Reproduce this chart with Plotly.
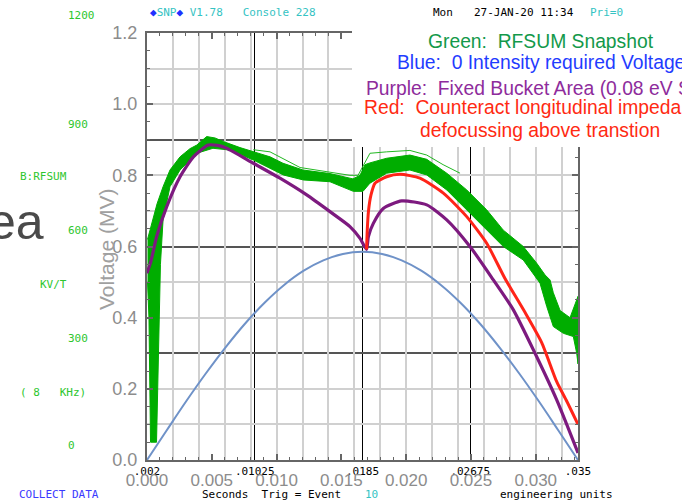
import plotly.graph_objects as go

# ---------------- data (time in seconds on the ACNET axis, voltage in MV) ----------------
acnet_x_ticks = [0.002, 0.01025, 0.0185, 0.02675, 0.035]
acnet_x_labels = [".002", ".01025", ".0185", ".02675", ".035"]
acnet_y_grid = [300, 600, 900]          # KV/T
math_y_grid = [0.1, 0.2, 0.4, 0.5, 0.7, 0.8, 1.0, 1.1]

# Green: RFSUM snapshot (noisy band -> upper / lower envelope)
green_upper_t = [0.00204, 0.00238, 0.00277, 0.00323, 0.00376, 0.00453, 0.00529, 0.00581, 0.00657,
                 0.00721, 0.00784, 0.00912, 0.01014, 0.01142, 0.01241, 0.01394, 0.01601, 0.01716,
                 0.01777, 0.01831, 0.01869, 0.01907, 0.02035, 0.02213, 0.02342, 0.02495, 0.02648,
                 0.02801, 0.02928, 0.03081, 0.03184, 0.03248, 0.03286, 0.03311, 0.03363, 0.03439,
                 0.0349, 0.035]
green_upper_v = [0.62, 0.67, 0.72, 0.768, 0.815, 0.852, 0.875, 0.885, 0.909,
                 0.905, 0.895, 0.878, 0.866, 0.852, 0.834, 0.815, 0.805, 0.795,
                 0.79, 0.80, 0.83, 0.835, 0.848, 0.857, 0.845, 0.806, 0.759,
                 0.703, 0.646, 0.60, 0.553, 0.52, 0.506, 0.47, 0.42, 0.40,
                 0.45, 0.46]
green_lower_t = [0.00204, 0.00215, 0.00227, 0.00273, 0.00296, 0.00303, 0.00323, 0.00376, 0.00453,
                 0.00581, 0.00705, 0.00836, 0.01014, 0.01244, 0.01397, 0.01601, 0.0178, 0.01854,
                 0.01907, 0.02035, 0.02213, 0.02342, 0.02495, 0.02648, 0.02801, 0.02928, 0.03081,
                 0.03209, 0.03261, 0.03311, 0.03388, 0.03464, 0.0349, 0.035]
green_lower_v = [0.50, 0.40, 0.05, 0.05, 0.45, 0.55, 0.675, 0.768, 0.815,
                 0.862, 0.876, 0.871, 0.843, 0.801, 0.787, 0.782, 0.755, 0.755,
                 0.778, 0.806, 0.815, 0.801, 0.759, 0.703, 0.646, 0.60, 0.562,
                 0.497, 0.431, 0.375, 0.356, 0.347, 0.30, 0.27]
green_max_t = [0.01014, 0.01142, 0.01372, 0.01601, 0.01754, 0.01816, 0.01862, 0.01907, 0.02035,
               0.02213, 0.02342, 0.02467, 0.02597]
green_max_v = [0.872, 0.866, 0.822, 0.81, 0.80, 0.80, 0.83, 0.862, 0.866,
               0.87, 0.857, 0.83, 0.806]

# Blue: 0 intensity required voltage
blue_t = [0.002, 0.0035, 0.005, 0.0065, 0.008, 0.0095, 0.011, 0.0125, 0.014, 0.0155, 0.017, 0.0185,
          0.020, 0.0215, 0.023, 0.0245, 0.026, 0.0275, 0.029, 0.0305, 0.032, 0.0335, 0.035]
blue_v = [0.0, 0.083, 0.165, 0.243, 0.316, 0.383, 0.442, 0.492, 0.532, 0.561, 0.579, 0.585,
          0.579, 0.561, 0.532, 0.492, 0.442, 0.383, 0.316, 0.243, 0.165, 0.083, 0.0]

# Purple: fixed bucket area
purple_t = [0.00200, 0.00231, 0.00274, 0.00351, 0.00453, 0.00555, 0.00669, 0.0074, 0.00810, 0.01014,
            0.01218, 0.01423, 0.01601, 0.01754, 0.01831, 0.01881, 0.01895, 0.01933, 0.02009,
            0.02150, 0.02342, 0.02495, 0.02673, 0.02852, 0.03005, 0.03171, 0.03337, 0.03500]
purple_v = [0.525, 0.56, 0.628, 0.712, 0.796, 0.852, 0.885, 0.884, 0.876, 0.834,
            0.792, 0.745, 0.698, 0.656, 0.623, 0.592, 0.628, 0.665, 0.707,
            0.728, 0.717, 0.675, 0.60, 0.506, 0.422, 0.30, 0.169, 0.02]

# Red: counteract longitudinal impedance defocussing above transition
red_t = [0.01881, 0.01887, 0.01896, 0.01915, 0.01946, 0.02035, 0.02137, 0.02290, 0.02469,
         0.02648, 0.02801, 0.02941, 0.03094, 0.03222, 0.03337, 0.03414, 0.03500]
red_v = [0.592, 0.65, 0.70, 0.745, 0.778, 0.796, 0.803, 0.792, 0.75,
         0.684, 0.609, 0.51, 0.415, 0.33, 0.22, 0.165, 0.10]

# ---------------- geometry helpers (pixel -> paper) ----------------
W, H = 682, 502
ML, MR, MT, MB = 147, 104, 33, 42
PW, PH = W - ML - MR, H - MT - MB


def px(x):
    return (x - ML) / PW


def py(y):
    return (H - MB - y) / PH


MONO = "DejaVu Sans Mono, Liberation Mono, monospace"
SANS = "Liberation Sans, Arial, sans-serif"
NARROW = "Liberation Sans Narrow, Liberation Sans, sans-serif"
GREEN_T = "#2ec62e"
CYAN = "#35c3c3"
BLUE_T = "#3a3aff"
NB = "\u00a0"

fig = go.Figure()

band_x = green_upper_t + green_lower_t[::-1]
band_y = green_upper_v + green_lower_v[::-1]
fig.add_trace(go.Scatter(x=band_x, y=band_y, mode="lines", fill="toself", fillcolor="#00ad00",
                         line=dict(color="#00ad00", width=1), hoverinfo="skip"))
fig.add_trace(go.Scatter(x=green_max_t, y=green_max_v, mode="lines",
                         line=dict(color="#22b822", width=1), hoverinfo="skip"))
fig.add_trace(go.Scatter(x=blue_t, y=blue_v, mode="lines", line=dict(color="#6f92c8", width=2, shape="spline")))
fig.add_trace(go.Scatter(x=purple_t, y=purple_v, mode="lines",
                         line=dict(color="#7d1a7f", width=3.2, shape="spline", smoothing=0.6)))
fig.add_trace(go.Scatter(x=red_t, y=red_v, mode="lines",
                         line=dict(color="#ff2418", width=3, shape="spline", smoothing=0.6)))
# empty traces to instantiate the overlay axes
fig.add_trace(go.Scatter(x=[], y=[], xaxis="x2", yaxis="y"))
fig.add_trace(go.Scatter(x=[], y=[], xaxis="x3", yaxis="y"))
fig.add_trace(go.Scatter(x=[], y=[], xaxis="x", yaxis="y2"))
fig.add_trace(go.Scatter(x=[], y=[], xaxis="x", yaxis="y3"))

ann = []


def txt(x, y, s, color, size=11, family=MONO, anchor="left", **kw):
    ann.append(dict(x=px(x), y=py(y), xref="paper", yref="paper", text=s, showarrow=False,
                    xanchor=anchor, yanchor="middle", font=dict(family=family, size=size, color=color), **kw))


# header
txt(148, 13, '<span style="color:#2030ff">◆</span>SNP<span style="color:#2030ff">◆</span> V1.78'
    + NB * 3 + "Console 228", CYAN)
txt(431, 13, "Mon", "black")
txt(472, 13, "27-JAN-20 11:34", "black")
txt(588, 13, "Pri=0", CYAN)
# ACNET left labels
txt(66, 16, "1200", GREEN_T)
txt(66, 124, "900", GREEN_T)
txt(18, 176, "B:RFSUM", GREEN_T)
txt(66, 231, "600", GREEN_T)
txt(38, 284, "KV/T", GREEN_T)
txt(66, 338, "300", GREEN_T)
txt(18, 392, "(" + NB + "8" + NB * 3 + "KHz)", GREEN_T)
txt(66, 445, "0", GREEN_T)
# footer
txt(17, 494, "COLLECT DATA", BLUE_T)
txt(200, 494, "Seconds" + NB * 2 + "Trig = Event", "black")
txt(363, 494, "10", CYAN)
txt(498, 494, "engineering units", "black")
# big slide fragment
txt(46, 222, "ea", "#4a4a4a", size=50, family=SANS, anchor="right")
# y title
txt(106, 250, "Voltage (MV)", "#a0a0a0", size=21, family=SANS, anchor="center", textangle=-90)
# legend text block
LS = 19.3
txt(541, 41, "Green:" + NB * 2 + "RFSUM Snapshot", "#13994a", size=LS, family=SANS, anchor="center")
txt(541, 63, "Blue:" + NB * 2 + "0 Intensity required Voltage", "#1f3cff", size=LS, family=SANS, anchor="center")
txt(364, 88, "Purple:" + NB * 2 + "Fixed Bucket Area (0.08 eV S", "#8e2c9c", size=LS, family=SANS)
txt(362, 108, "Red:" + NB * 2 + "Counteract longitudinal impeda", "#ff2a12", size=LS, family=SANS)
txt(540, 130, "defocussing above transtion", "#ff2a12", size=LS, family=SANS, anchor="center")

FRAME = "#666666"
fig.update_layout(
    width=W, height=H, margin=dict(l=ML, r=MR, t=MT, b=MB, pad=0, autoexpand=False),
    paper_bgcolor="white", plot_bgcolor="white", showlegend=False,
    xaxis=dict(range=[0.002, 0.035], tickvals=acnet_x_ticks, ticktext=acnet_x_labels, automargin=False,
               showgrid=True, gridcolor="black", gridwidth=1, zeroline=False, showline=False,
               ticks="", tickfont=dict(family=MONO, size=11, color="black"), ticklabelstandoff=3),
    xaxis2=dict(overlaying="x", anchor="y", side="bottom", range=[0, 0.03326], tick0=0, dtick=0.005,
                automargin=False,
                tickformat=".3f", showgrid=False, zeroline=False, showline=True, linecolor=FRAME,
                linewidth=2, mirror="ticks", ticks="inside", ticklen=6, tickcolor=FRAME, tickwidth=1.5,
                minor=dict(dtick=0.001, ticklen=3, ticks="inside", tickcolor=FRAME, tickwidth=1.2),
                tickfont=dict(family=NARROW, size=17, color="#8c8c8c"), ticklabelstandoff=4),
    xaxis3=dict(overlaying="x", anchor="y", range=[0, 0.03326], tick0=0, dtick=0.002, showgrid=True,
                automargin=False,
                gridcolor="#d0d0d0", gridwidth=1.6, showticklabels=False, ticks="", zeroline=False,
                showline=False),
    yaxis=dict(range=[0, 1.2], tick0=0, dtick=0.2, tickformat=".1f", showgrid=False, zeroline=False,
               automargin=False,
               showline=True, linecolor=FRAME, linewidth=2, mirror="ticks", ticks="inside", ticklen=6,
               tickcolor=FRAME, tickwidth=1.5,
               minor=dict(dtick=0.05, ticklen=3, ticks="inside", tickcolor=FRAME, tickwidth=1.2),
               tickfont=dict(family=NARROW, size=18, color="#8c8c8c"), ticklabelstandoff=4),
    yaxis2=dict(overlaying="y", anchor="x", range=[0, 1200], tickvals=acnet_y_grid, showgrid=True,
                automargin=False,
                gridcolor="#555555", gridwidth=2, showticklabels=False, ticks="", zeroline=False),
    yaxis3=dict(overlaying="y", anchor="x", range=[0, 1.2], tickvals=math_y_grid, showgrid=True,
                automargin=False,
                gridcolor="#d0d0d0", gridwidth=1.6, showticklabels=False, ticks="", zeroline=False),
    shapes=[dict(type="rect", xref="paper", yref="paper", x0=px(352), x1=px(690), y0=py(147), y1=py(22),
                 fillcolor="white", line=dict(width=0), layer="above")],
    annotations=ann,
)

fig.write_html("out.html")
